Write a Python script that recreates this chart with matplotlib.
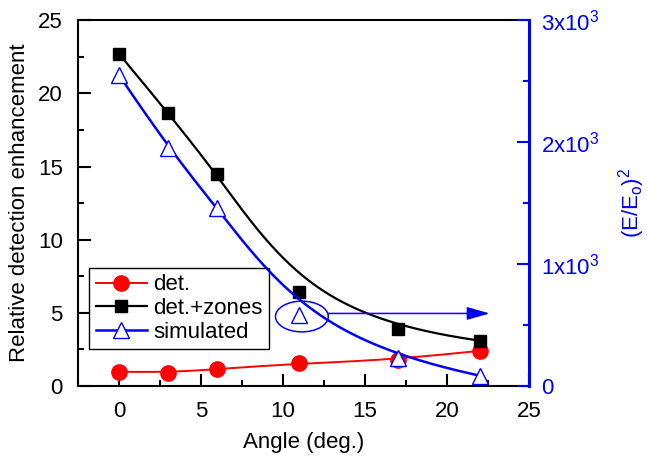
import numpy as np
import matplotlib
matplotlib.use("Agg")
import matplotlib.pyplot as plt
from matplotlib.patches import Ellipse
from matplotlib.ticker import FuncFormatter, MultipleLocator

plt.rcParams['font.family'] = ['Liberation Sans', 'DejaVu Sans']
plt.rcParams['mathtext.fontset'] = 'custom'
plt.rcParams['mathtext.rm'] = 'Liberation Sans'
plt.rcParams['mathtext.it'] = 'Liberation Sans'

# donnees
angle = [0, 3, 6, 11, 17, 22]
det = [0.98, 0.92, 1.16, 1.55, 1.8, 2.41]
det_zones = [22.7, 18.65, 14.5, 6.4, 3.9, 3.1]
simulated = [2550, 1950, 1460, 580, 230, 85]


def bspline(x, y, n=200):
    # B-spline cubique ouverte (style Origin), points de controle = donnees
    P = np.column_stack([x, y]).astype(float)
    k = 3
    m = len(P)
    knots = np.concatenate([np.zeros(k), np.arange(m - k + 1), np.full(k, m - k)]).astype(float)
    t = np.linspace(0, m - k, n)
    t[-1] -= 1e-9

    def N(i, p, u):
        if p == 0:
            return ((knots[i] <= u) & (u < knots[i + 1])).astype(float)
        a = 0.0
        b = 0.0
        d1 = knots[i + p] - knots[i]
        d2 = knots[i + p + 1] - knots[i + 1]
        if d1 > 0:
            a = (u - knots[i]) / d1 * N(i, p - 1, u)
        if d2 > 0:
            b = (knots[i + p + 1] - u) / d2 * N(i + 1, p - 1, u)
        return a + b

    B = np.array([N(i, k, t) for i in range(m)])
    C = B.T @ P
    return C[:, 0], C[:, 1]


fig = plt.figure(figsize=(6.47, 4.59), dpi=100)
ax = fig.add_axes([0.1206, 0.159, 0.697, 0.797])
ax2 = ax.twinx()

xs, ys = bspline(angle, det)
ax.plot(xs, ys, color='red', lw=1.4)
ax.plot(angle, det, 'o', color='red', ms=11, ls='none')
xs, ys = bspline(angle, det_zones)
ax.plot(xs, ys, color='black', lw=1.6)
ax.plot(angle, det_zones, 's', color='black', ms=9, ls='none')

xs, ys = bspline(angle, simulated)
ax2.plot(xs, ys, color='blue', lw=1.8)
ax2.plot(angle, simulated, '^', color='blue', mfc='white', ms=12, mew=1.0, ls='none')

# ellipse + fleche
ax.add_patch(Ellipse((11.15, 4.75), 3.22, 2.1, fill=False, ec='blue', lw=1.1, zorder=5))
ax.annotate('', xy=(22.6, 4.96), xytext=(12.75, 4.96),
            arrowprops=dict(arrowstyle='-|>,head_length=1.4,head_width=0.4', color='blue', lw=1.1,
                            shrinkA=0, shrinkB=0), zorder=5)

ax.set_xlim(-2.5, 25)
ax.set_ylim(0, 25)
ax2.set_ylim(0, 3000)

ax.xaxis.set_major_locator(MultipleLocator(5))
ax.xaxis.set_minor_locator(MultipleLocator(2.5))
ax.yaxis.set_major_locator(MultipleLocator(5))
ax.yaxis.set_minor_locator(MultipleLocator(2.5))
ax2.yaxis.set_major_locator(MultipleLocator(1000))
ax2.yaxis.set_minor_locator(MultipleLocator(500))
ax2.yaxis.set_major_formatter(FuncFormatter(lambda v, p: '0' if v == 0 else '%dx10$^{3}$' % round(v / 1000)))

ax.tick_params(which='major', direction='in', length=9, width=1.5, labelsize=16, top=False, pad=11)
ax.tick_params(which='minor', direction='in', length=4.5, width=1.5, top=False)
ax2.tick_params(which='major', direction='in', length=9, width=1.5, labelsize=16, colors='blue', pad=9)
ax2.tick_params(which='minor', direction='in', length=4.5, width=1.5, colors='blue')

for s in ['left', 'bottom', 'top']:
    ax.spines[s].set_linewidth(1.5)
ax2.spines['right'].set_color('blue')
ax2.spines['right'].set_linewidth(2.2)
ax2.spines['left'].set_visible(False)
ax2.spines['top'].set_visible(False)
ax2.spines['bottom'].set_visible(False)
ax.spines['right'].set_visible(False)

ax.set_xlabel('Angle (deg.)', fontsize=16, labelpad=7)
ax.set_ylabel('Relative detection enhancement', fontsize=16, labelpad=6)
ax2.set_ylabel('(E/E$_{o}$)$^{2}$', fontsize=16, color='blue', labelpad=12)

h1 = ax.plot([], [], 'o-', color='red', ms=11, lw=1.4)[0]
h2 = ax.plot([], [], 's-', color='black', ms=9, lw=1.6)[0]
h3 = ax.plot([], [], '^-', color='blue', mfc='white', ms=12, lw=1.8)[0]
leg = ax.legend([h1, h2, h3], ['det.', 'det.+zones', 'simulated'], loc='lower left',
                bbox_to_anchor=(0.024, 0.1), fontsize=16, frameon=True, fancybox=False,
                edgecolor='black', framealpha=1, handlelength=2.3, handletextpad=0.3,
                borderpad=0.3, labelspacing=0.12, borderaxespad=0)
leg.get_frame().set_linewidth(1.0)
ax.set_zorder(ax2.get_zorder() - 1)

fig.savefig('out.png', dpi=100)
